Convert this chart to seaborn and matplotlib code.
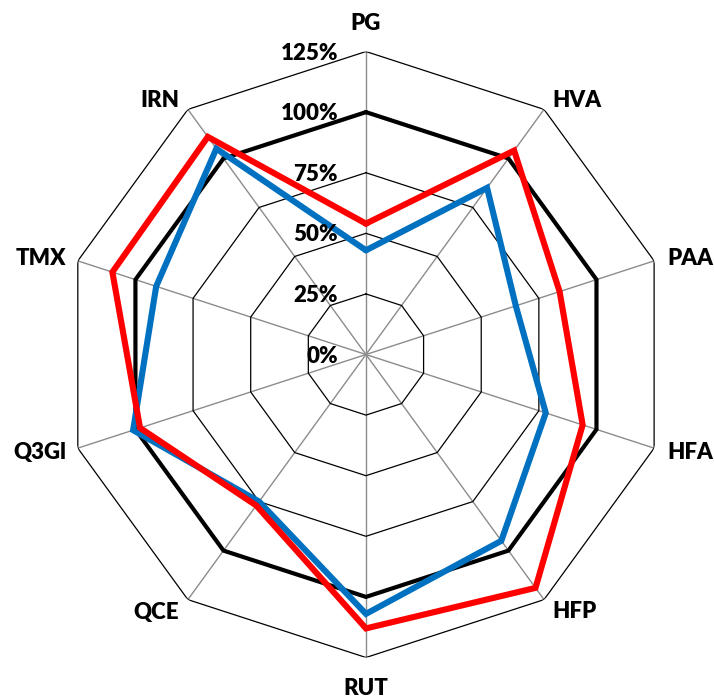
import numpy as np
import pandas as pd
import matplotlib
matplotlib.use("Agg")
import matplotlib.pyplot as plt
import matplotlib.transforms as mtransforms
import seaborn as sns

# Categories around the radar, clockwise from the top
categories = ["PG", "HVA", "PAA", "HFA", "HFP", "RUT", "QCE", "Q3Gl", "TMX", "IRN"]

# Series values (fraction of reference)
reference = [1.00, 1.00, 1.00, 1.00, 1.00, 1.00, 1.00, 1.00, 1.00, 1.00]
series_blue = [0.43, 0.85, 0.65, 0.78, 0.95, 1.07, 0.75, 1.01, 0.91, 1.05]
series_red = [0.54, 1.04, 0.84, 0.94, 1.19, 1.13, 0.77, 0.98, 1.10, 1.11]

# Radial grid levels and their labels
grid_levels = [0.0, 0.25, 0.50, 0.75, 1.00, 1.25]
grid_labels = ["0%", "25%", "50%", "75%", "100%", "125%"]

sns.set_theme(style="white")
plt.rcParams["font.family"] = ["Lato", "DejaVu Sans"]

fig = plt.figure(figsize=(7.14, 6.98), dpi=100)
ax = fig.add_axes([0.0882, 0.058, 0.8487, 0.8682], projection="polar")
ax.set_theta_zero_location("N")
ax.set_theta_direction(-1)
ax.set_ylim(0, 1.25)
ax.grid(False)
ax.spines["polar"].set_visible(False)
ax.set_xticks([])
ax.set_yticks([])
ax.set_facecolor("white")

n = len(categories)
angles = np.linspace(0, 2 * np.pi, n, endpoint=False)
closed_angles = np.append(angles, 2 * np.pi)

# Spokes
for a in angles:
    ax.plot([a, a], [0, grid_levels[-1]], color="#8c8c8c", lw=1.0, zorder=1)

# Polygon gridlines
for lvl in grid_levels[1:]:
    ax.plot(closed_angles, [lvl] * (n + 1), color="black", lw=0.9, zorder=2)


def draw_series(values, color, width, z):
    df = pd.DataFrame({"theta": closed_angles,
                       "r": list(values) + [values[0]]})
    sns.lineplot(data=df, x="theta", y="r", sort=False, estimator=None,
                 color=color, lw=width, ax=ax, zorder=z,
                 solid_joinstyle="miter")


draw_series(reference, "black", 3.0, 3)
draw_series(series_blue, "#0070C0", 4.4, 4)
draw_series(series_red, "#FF0000", 4.4, 5)

ax.set_xlabel("")
ax.set_ylabel("")

label_font = dict(fontsize=16, fontweight="heavy", color="black")

# Radial tick labels, left of the top spoke
for lvl, lab in zip(grid_levels, grid_labels):
    tr = mtransforms.offset_copy(ax.transData, fig=fig, x=-28, y=-8, units="dots")
    ax.text(0, lvl, lab, transform=tr, ha="right", va="baseline",
            zorder=6, **label_font)

# Category labels: pixel offsets of the text baseline from the outer vertex
label_dx = [0, 8, 13, 13, 8, 0, -9, -12, -12, -8]
label_dy = [22, 2, -4, -11, -18, -37, -19, -11, -4, 2]
for a, cat, dx, dy in zip(angles, categories, label_dx, label_dy):
    ha = "center" if dx == 0 else ("left" if dx > 0 else "right")
    tr = mtransforms.offset_copy(ax.transData, fig=fig, x=dx, y=dy, units="dots")
    ax.text(a, grid_levels[-1], cat, transform=tr, ha=ha, va="baseline",
            **label_font)

fig.savefig("out.png", dpi=100, facecolor="white")
